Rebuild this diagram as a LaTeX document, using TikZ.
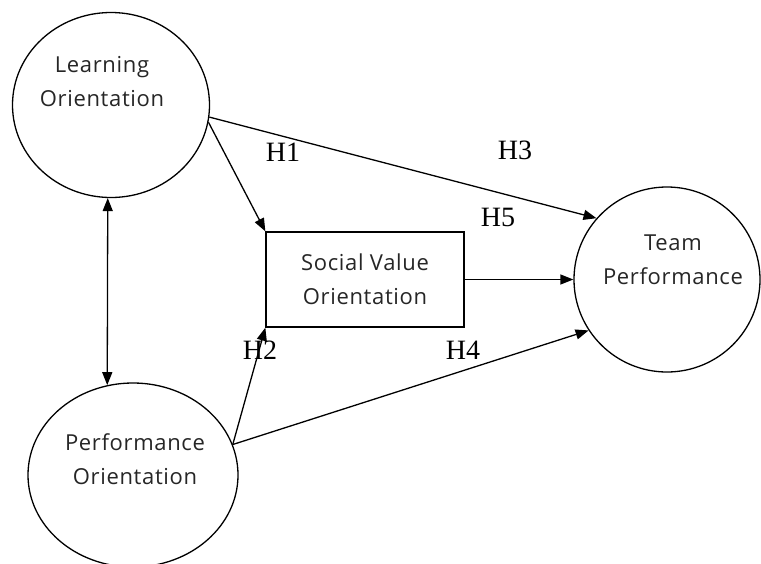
\documentclass[tikz,border=0pt]{standalone}
\usepackage{fontspec}
\setmainfont{Liberation Serif}
\newfontfamily\labfont[LetterSpace=3]{Open Sans}
\usetikzlibrary{shapes.geometric,arrows.meta}
\begin{document}
\begin{tikzpicture}[x=1pt,y=-1pt,
  ell/.style={draw, ellipse, inner sep=0pt, line width=1.3pt},
  lab/.style={font=\labfont\fontsize{22}{34}\selectfont, align=center, text=black!85},
  hyp/.style={font=\fontsize{28}{30}\selectfont, inner sep=0pt},
  arr/.style={-{Triangle[length=13pt,width=10pt]}, line width=1.3pt},
  darr/.style={{Triangle[length=13pt,width=10pt]}-{Triangle[length=13pt,width=10pt]}, line width=1.3pt},
]
\useasboundingbox (0,0) rectangle (761,563);
\clip (0,0) rectangle (761,563);
% shapes
\node[ell, minimum width=197pt, minimum height=185pt] (lo) at (111,105) {};
\node[ell, minimum width=210pt, minimum height=184pt] (po) at (133,475) {};
\node[ell, minimum width=186pt, minimum height=185pt] (tp) at (667,279.5) {};
\node[draw, line width=1.3pt, minimum width=198pt, minimum height=95pt, inner sep=0pt, lab] (svo) at (365,279.5) {Social Value\\Orientation};
% texts in circles
\node[lab] (lot) at (102,82) {Learning\\Orientation};
\node[lab] (pot) at (135,459) {Performance\\Orientation};
\node[lab] (tpt) at (673,260) {Team\\Performance};
% connectors
\draw[darr] (lo.-92.5) -- (po.106.3);
\draw[arr] (lo.-7.5) -- (tp.139);
\draw[arr] (lo.-10.5) -- (svo.north west);
\draw[arr] (po.17.9) -- (svo.south west);
\draw[arr] (po.17.9) -- (tp.213.4);
\draw[arr] (svo.east) -- (tp.west);
% hypothesis labels
\node[hyp] (h1) at (283,152) {H1};
\node[hyp] (h3) at (515,150) {H3};
\node[hyp] (h5) at (498,217) {H5};
\node[hyp] (h2) at (260,350) {H2};
\node[hyp] (h4) at (463,350) {H4};
\end{tikzpicture}
\end{document}
